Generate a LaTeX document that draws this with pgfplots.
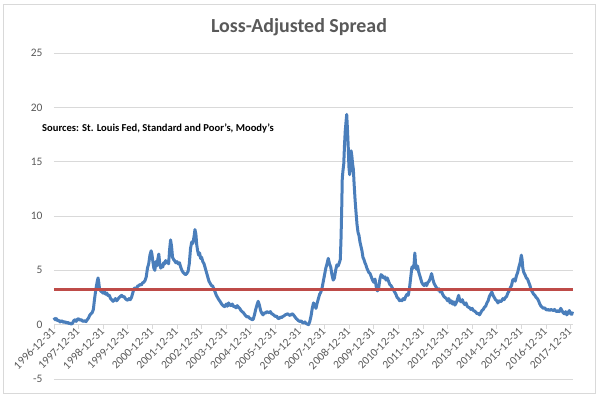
\documentclass[border=0pt]{standalone}
\usepackage{pgfplots}
\pgfplotsset{compat=1.18}
\usepackage{fontspec}
\setmainfont{Carlito}
\definecolor{lblue}{HTML}{4A7EBB}
\definecolor{lred}{HTML}{BE4B48}
\definecolor{tgray}{HTML}{595959}
\definecolor{ggray}{HTML}{D9D9D9}
\begin{document}
\begin{tikzpicture}
\begin{axis}[
  at={(0,0)}, anchor=south west,
  scale only axis, width=519bp, height=326bp,
  xmin=0, xmax=21.1, ymin=-5, ymax=25,
  axis x line=middle, axis y line=left,
  axis line style={-, ggray},
  y axis line style={draw=none},
  hide obscured x ticks=false, hide obscured y ticks=false,
  ytick={-5,0,5,10,15,20,25},
  xtick={0,...,21},
  xticklabels={1996-12-31,1997-12-31,1998-12-31,1999-12-31,2000-12-31,2001-12-31,2002-12-31,2003-12-31,2004-12-31,2005-12-31,2006-12-31,2007-12-31,2008-12-31,2009-12-31,2010-12-31,2011-12-31,2012-12-31,2013-12-31,2014-12-31,2015-12-31,2016-12-31,2017-12-31},
  ymajorgrids, grid style={ggray, line width=0.8bp},
  x tick style={ggray, line width=0.8bp}, y tick style={draw=none}, tick align=outside,
  major tick length=4bp,
  x tick label style={rotate=45, anchor=east, font=\fontsize{11.5}{11.5}\selectfont, text=tgray, inner sep=1bp},
  y tick label style={font=\fontsize{11.5}{11.5}\selectfont, text=tgray},
  yticklabel style={xshift=-4bp},
  /pgf/number format/assume math mode=true,
  clip=false,
]
\addplot[lblue, line width=3bp, line join=round] coordinates {
(0.00,0.65)(0.05,0.45)(0.10,0.55)(0.15,0.35)(0.20,0.40)(0.25,0.25)(0.30,0.35)(0.35,0.30)(0.40,0.20)(0.45,0.28)
(0.50,0.15)(0.55,0.22)(0.60,0.10)(0.65,0.15)(0.70,0.05)(0.75,0.12)(0.80,0.35)(0.85,0.45)(0.90,0.30)(0.95,0.50)
(1.00,0.55)(1.05,0.40)(1.10,0.48)(1.15,0.35)(1.20,0.30)(1.25,0.38)(1.30,0.28)(1.35,0.45)(1.40,0.60)(1.45,0.85)
(1.50,1.00)(1.55,1.10)(1.60,1.40)(1.64,2.20)(1.68,2.90)(1.72,3.50)(1.76,4.00)(1.79,4.30)(1.82,3.90)(1.85,3.30)
(1.90,3.10)(1.95,3.00)(2.00,2.90)(2.05,3.05)(2.10,2.80)(2.15,2.90)(2.20,2.65)(2.25,2.70)(2.30,2.40)(2.35,2.30)
(2.40,2.15)(2.45,2.25)(2.50,2.40)(2.55,2.20)(2.60,2.35)(2.65,2.50)(2.70,2.60)(2.75,2.70)(2.80,2.55)(2.85,2.60)
(2.90,2.40)(2.95,2.30)(3.00,2.25)(3.05,2.40)(3.10,2.30)(3.15,2.50)(3.20,2.90)(3.25,3.30)(3.30,3.40)(3.35,3.30)
(3.40,3.55)(3.45,3.60)(3.50,3.70)(3.55,3.65)(3.60,3.85)(3.65,3.90)(3.70,4.05)(3.75,4.40)(3.80,5.20)(3.85,5.60)
(3.90,6.40)(3.95,6.80)(3.98,6.50)(4.02,5.80)(4.06,5.20)(4.10,5.00)(4.14,5.80)(4.18,5.40)(4.22,6.00)(4.26,6.50)
(4.30,5.60)(4.34,5.20)(4.38,5.50)(4.42,5.30)(4.46,5.70)(4.50,5.60)(4.54,5.90)(4.58,5.70)(4.62,5.80)(4.66,5.60)
(4.70,6.90)(4.74,7.80)(4.78,7.20)(4.82,6.20)(4.86,6.00)(4.90,5.90)(4.95,5.70)(5.00,5.80)(5.05,5.60)(5.10,5.70)
(5.15,5.30)(5.20,5.00)(5.25,4.80)(5.30,4.70)(5.35,4.60)(5.40,4.70)(5.45,4.90)(5.50,5.60)(5.55,7.00)(5.60,7.60)
(5.65,7.50)(5.70,8.20)(5.73,8.75)(5.77,8.30)(5.80,7.40)(5.84,6.80)(5.88,6.40)(5.92,6.60)(5.96,6.10)(6.00,6.20)
(6.05,5.80)(6.10,5.60)(6.15,5.20)(6.20,4.80)(6.25,4.40)(6.30,4.00)(6.35,3.80)(6.40,3.60)(6.45,3.55)(6.50,3.30)
(6.55,3.00)(6.60,2.70)(6.65,2.50)(6.70,2.30)(6.75,2.15)(6.80,1.95)(6.85,1.80)(6.90,1.70)(6.95,1.65)(7.00,1.90)
(7.05,1.70)(7.10,2.00)(7.15,1.80)(7.20,1.75)(7.25,1.90)(7.30,1.65)(7.35,1.70)(7.40,1.55)(7.45,1.75)(7.50,1.60)
(7.55,1.50)(7.60,1.30)(7.65,1.20)(7.70,1.10)(7.75,0.95)(7.80,0.80)(7.85,0.70)(7.90,0.75)(7.95,0.60)(8.00,0.55)
(8.05,0.45)(8.10,0.50)(8.15,0.90)(8.20,1.40)(8.25,1.80)(8.30,2.15)(8.35,1.80)(8.40,1.30)(8.45,1.05)(8.50,0.90)
(8.55,1.10)(8.60,1.05)(8.65,1.20)(8.70,1.15)(8.75,1.10)(8.80,1.20)(8.85,1.00)(8.90,0.95)(8.95,0.85)(9.00,0.75)
(9.05,0.80)(9.10,0.60)(9.15,0.55)(9.20,0.70)(9.25,0.65)(9.30,0.75)(9.35,0.80)(9.40,0.90)(9.45,0.95)(9.50,1.00)
(9.55,0.90)(9.60,0.85)(9.65,0.95)(9.70,1.00)(9.75,0.85)(9.80,0.70)(9.85,0.55)(9.90,0.45)(9.95,0.35)(10.00,0.30)
(10.05,0.35)(10.10,0.20)(10.15,0.15)(10.20,0.25)(10.25,0.10)(10.30,0.05)(10.35,0.00)(10.40,0.30)(10.45,0.80)(10.50,1.50)
(10.55,2.00)(10.60,1.80)(10.65,1.50)(10.70,2.00)(10.75,2.40)(10.80,2.80)(10.85,3.00)(10.90,3.40)(10.95,4.00)(11.00,4.60)
(11.05,5.20)(11.10,5.60)(11.15,6.10)(11.20,5.60)(11.25,5.30)(11.30,4.60)(11.35,4.10)(11.40,4.30)(11.45,5.00)(11.50,5.50)
(11.55,5.40)(11.60,5.70)(11.64,6.00)(11.67,8.00)(11.70,11.0)(11.72,13.5)(11.75,14.2)(11.78,14.8)(11.81,16.5)(11.84,17.8)
(11.87,18.6)(11.90,19.35)(11.93,18.0)(11.96,16.5)(11.99,14.5)(12.02,13.8)(12.05,14.3)(12.08,16.0)(12.11,15.5)(12.14,14.8)
(12.17,14.3)(12.20,13.0)(12.24,11.5)(12.28,10.3)(12.32,9.20)(12.36,8.50)(12.40,8.20)(12.44,7.60)(12.48,7.20)(12.52,6.80)
(12.56,6.20)(12.60,6.00)(12.64,5.70)(12.68,5.50)(12.72,5.20)(12.76,5.00)(12.80,4.80)(12.85,4.70)(12.90,4.40)(12.95,4.10)
(13.00,3.90)(13.05,4.20)(13.10,3.50)(13.15,3.10)(13.20,3.40)(13.25,4.20)(13.30,4.60)(13.35,4.50)(13.40,4.30)(13.45,4.40)
(13.50,4.10)(13.55,4.30)(13.60,4.00)(13.65,3.70)(13.70,3.60)(13.75,3.40)(13.80,3.20)(13.85,3.00)(13.90,2.80)(13.95,2.50)
(14.00,2.40)(14.05,2.20)(14.10,2.30)(14.15,2.20)(14.20,2.40)(14.25,2.30)(14.30,2.60)(14.35,2.80)(14.40,2.70)(14.45,3.30)
(14.50,4.30)(14.55,5.30)(14.60,5.20)(14.64,5.60)(14.67,6.60)(14.70,5.60)(14.74,5.10)(14.78,5.40)(14.82,4.90)(14.86,4.60)
(14.90,4.30)(14.95,3.90)(15.00,3.70)(15.05,3.60)(15.10,3.80)(15.15,3.60)(15.20,3.90)(15.25,4.00)(15.30,4.30)(15.35,4.70)
(15.40,4.20)(15.45,3.80)(15.50,3.60)(15.55,3.40)(15.60,3.20)(15.65,3.30)(15.70,3.00)(15.75,3.10)(15.80,2.80)(15.85,2.60)
(15.90,2.50)(15.95,2.40)(16.00,2.20)(16.05,2.40)(16.10,2.00)(16.15,2.20)(16.20,1.90)(16.25,2.10)(16.30,1.80)(16.35,2.00)
(16.40,2.30)(16.45,2.70)(16.50,2.20)(16.55,2.10)(16.60,2.30)(16.65,2.00)(16.70,1.85)(16.75,2.00)(16.80,1.70)(16.85,1.60)
(16.90,1.55)(16.95,1.40)(17.00,1.50)(17.05,1.30)(17.10,1.25)(17.15,1.15)(17.20,1.00)(17.25,1.05)(17.30,0.90)(17.35,1.10)
(17.40,1.30)(17.45,1.40)(17.50,1.60)(17.55,1.70)(17.60,2.00)(17.65,2.20)(17.70,2.60)(17.75,2.80)(17.80,3.00)(17.85,2.70)
(17.90,2.50)(17.95,2.30)(18.00,2.20)(18.05,2.00)(18.10,2.20)(18.15,2.10)(18.20,2.20)(18.25,2.40)(18.30,2.30)(18.35,2.50)
(18.40,2.60)(18.45,2.90)(18.50,3.10)(18.55,3.40)(18.60,3.60)(18.65,4.10)(18.70,4.20)(18.75,4.00)(18.80,4.50)(18.85,4.80)
(18.90,5.30)(18.95,5.70)(19.00,6.40)(19.03,6.00)(19.06,5.20)(19.10,4.80)(19.15,4.60)(19.20,4.30)(19.25,4.20)(19.30,3.90)
(19.35,3.60)(19.40,3.20)(19.45,3.00)(19.50,2.80)(19.55,2.70)(19.60,2.50)(19.65,2.40)(19.70,2.20)(19.75,1.90)(19.80,1.70)
(19.85,1.60)(19.90,1.50)(19.95,1.55)(20.00,1.40)(20.05,1.35)(20.10,1.40)(20.15,1.30)(20.20,1.40)(20.25,1.35)(20.30,1.30)
(20.35,1.40)(20.40,1.25)(20.45,1.20)(20.50,1.30)(20.55,1.20)(20.60,1.50)(20.65,1.30)(20.70,1.10)(20.75,1.00)(20.80,1.20)
(20.85,0.90)(20.90,1.10)(20.95,1.30)(21.00,1.00)(21.05,0.95)(21.08,1.20)
};
\addplot[lred, line width=3bp] coordinates {(0,3.2) (21.08,3.2)};
\end{axis}
\node[font=\fontsize{20}{20}\selectfont\bfseries, text=tgray] at (245bp,352bp) {Loss-Adjusted Spread};
\node[font=\fontsize{10.6}{10.6}\selectfont\bfseries, anchor=west, inner sep=0pt] at (-12bp,251bp) {Sources: St. Louis Fed, Standard and Poor's, Moody's};
\draw[ggray, line width=0.8bp] (-51bp,-14bp) rectangle (541bp,375bp);
\pgfresetboundingbox
\path (-54bp,-20bp) rectangle (546bp,379bp);
\end{tikzpicture}
\end{document}
